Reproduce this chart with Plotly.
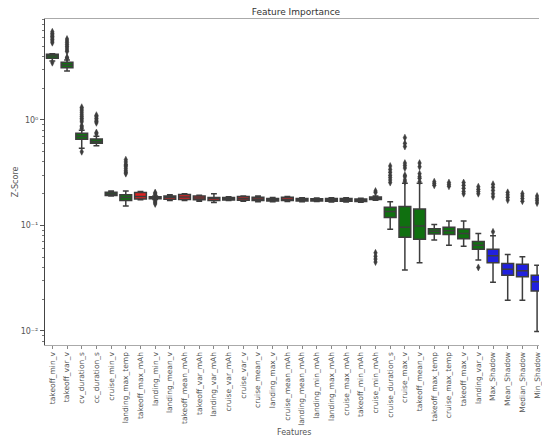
import plotly.graph_objects as go

# Feature names in plotted order (sorted by median importance)
features = [
    "takeoff_min_v", "takeoff_var_v", "cv_duration_s", "cc_duration_s", "cruise_min_v",
    "landing_max_temp", "takeoff_max_mAh", "landing_min_v", "landing_mean_v", "takeoff_mean_mAh",
    "takeoff_var_mAh", "landing_var_mAh", "cruise_var_mAh", "cruise_var_v", "cruise_mean_v",
    "landing_max_v", "cruise_mean_mAh", "landing_mean_mAh", "landing_min_mAh", "landing_max_mAh",
    "cruise_max_mAh", "takeoff_min_mAh", "cruise_min_mAh", "cruise_duration_s", "cruise_max_v",
    "takeoff_mean_v", "takeoff_max_temp", "cruise_max_temp", "takeoff_max_v", "landing_var_v",
    "Max_Shadow", "Mean_Shadow", "Median_Shadow", "Min_Shadow",
]

# Decision per feature: accepted / rejected / shadow
status = (["accepted"] * 6 + ["rejected"] * 17 + ["accepted"] * 7 + ["shadow"] * 4)

# Box statistics of the Z-scores
lower_fence = [3.62, 2.91, 0.539, 0.571, 0.190, 0.153, 0.175, 0.176, 0.172, 0.172,
               0.170, 0.165, 0.172, 0.170, 0.168, 0.168, 0.169, 0.168, 0.169, 0.167,
               0.167, 0.166, 0.173, 0.092, 0.0379, 0.0444, 0.073, 0.065, 0.0636, 0.047,
               0.029, 0.0196, 0.0196, 0.0099]
q1 = [3.85, 3.13, 0.656, 0.601, 0.192, 0.172, 0.178, 0.179, 0.177, 0.176,
      0.175, 0.172, 0.174, 0.173, 0.172, 0.171, 0.172, 0.171, 0.171, 0.170,
      0.170, 0.169, 0.176, 0.119, 0.0773, 0.074, 0.083, 0.082, 0.075, 0.0594,
      0.0444, 0.0338, 0.0327, 0.0239]
median = [4.04, 3.32, 0.700, 0.625, 0.199, 0.184, 0.188, 0.183, 0.185, 0.186,
          0.182, 0.180, 0.179, 0.180, 0.178, 0.175, 0.177, 0.175, 0.175, 0.175,
          0.175, 0.173, 0.181, 0.136, 0.096, 0.099, 0.088, 0.089, 0.084, 0.065,
          0.0515, 0.0385, 0.0372, 0.0292]
q3 = [4.20, 3.52, 0.748, 0.660, 0.206, 0.195, 0.205, 0.187, 0.190, 0.197,
      0.190, 0.184, 0.184, 0.188, 0.185, 0.180, 0.185, 0.180, 0.179, 0.180,
      0.180, 0.178, 0.186, 0.149, 0.151, 0.143, 0.0933, 0.096, 0.0927, 0.0703,
      0.0594, 0.0437, 0.0430, 0.0338]
upper_fence = [4.25, 3.70, 0.800, 0.700, 0.212, 0.212, 0.210, 0.190, 0.195, 0.200,
               0.193, 0.200, 0.187, 0.190, 0.190, 0.184, 0.188, 0.183, 0.182, 0.183,
               0.183, 0.181, 0.190, 0.168, 0.251, 0.251, 0.102, 0.110, 0.110, 0.084,
               0.080, 0.053, 0.0506, 0.042]

# Points beyond the whiskers
outliers = [
    [3.49, 5.4, 5.6, 5.8, 6.0, 6.2, 6.4, 6.6, 6.85],
    [3.85, 3.93, 4.45, 4.6, 4.8, 5.0, 5.2, 5.4, 5.6, 5.85],
    [0.50, 0.83, 0.86, 0.88, 0.96, 1.0, 1.04, 1.08, 1.12, 1.17, 1.22, 1.27, 1.32],
    [0.74, 0.76, 0.94, 0.97, 1.0, 1.04, 1.08, 1.11],
    [],
    [0.31, 0.32, 0.33, 0.345, 0.36, 0.37, 0.38, 0.40, 0.42],
    [],
    [0.196, 0.20, 0.205, 0.172, 0.168, 0.164, 0.16],
    [], [], [], [], [], [], [], [], [], [], [], [], [], [],
    [0.205, 0.212, 0.055, 0.051, 0.048, 0.045],
    [0.255, 0.27, 0.285, 0.30, 0.32, 0.34, 0.366],
    [0.26, 0.27, 0.29, 0.30, 0.35, 0.37, 0.39, 0.56, 0.60, 0.68],
    [0.26, 0.28, 0.29, 0.31, 0.36, 0.39],
    [0.24, 0.25, 0.26],
    [0.235, 0.245, 0.255],
    [0.20, 0.21, 0.225, 0.24, 0.255],
    [0.04, 0.20, 0.21, 0.22, 0.233],
    [0.087, 0.187, 0.20, 0.215, 0.23, 0.246],
    [0.174, 0.185, 0.195, 0.206],
    [0.17, 0.18, 0.19, 0.20],
    [0.163, 0.172, 0.18, 0.19],
]

colors = {"accepted": "#107010", "rejected": "#df2020", "shadow": "#2020df"}
edge = "#3d3d3d"
font_family = "DejaVu Sans"

fig = go.Figure()

for group, fill in colors.items():
    idx = [i for i, s in enumerate(status) if s == group]
    fig.add_trace(go.Box(
        x=[features[i] for i in idx],
        q1=[q1[i] for i in idx],
        median=[median[i] for i in idx],
        q3=[q3[i] for i in idx],
        lowerfence=[lower_fence[i] for i in idx],
        upperfence=[upper_fence[i] for i in idx],
        fillcolor=fill,
        line=dict(color=edge, width=1.5),
        width=0.8,
        whiskerwidth=0.5,
        boxpoints=False,
        showlegend=False,
        hoverinfo="skip",
    ))

out_x, out_y = [], []
for name, pts in zip(features, outliers):
    out_x.extend([name] * len(pts))
    out_y.extend(pts)

fig.add_trace(go.Scatter(
    x=out_x, y=out_y, mode="markers",
    marker=dict(symbol="diamond-tall", size=5, color=edge,
                line=dict(color=edge, width=0.5)),
    showlegend=False, hoverinfo="skip",
))

minor_vals = [m * 10.0 ** e for e in (-3, -2, -1, 0) for m in range(2, 10)]

fig.update_layout(
    width=542, height=441,
    margin=dict(l=45, r=0, t=19, b=96),
    paper_bgcolor="white", plot_bgcolor="white",
    boxmode="overlay",
    font=dict(family=font_family, color="#444"),
    title=dict(text="Feature Importance", x=0.546, xanchor="center",
               y=1 - 12 / 441, yanchor="middle", yref="container",
               font=dict(size=9, color="#333", family=font_family)),
    xaxis=dict(
        type="category", categoryorder="array", categoryarray=features,
        range=[-0.5, 33.13],
        tickangle=-90, tickfont=dict(size=7.5, color="#555"),
        ticks="outside", ticklen=3, tickcolor="#888",
        showline=True, linecolor="#aaa", linewidth=1.2, mirror=True,
        showgrid=False, zeroline=False,
    ),
    yaxis=dict(
        type="log", range=[-2.133, 0.957],
        tickvals=[0.01, 0.1, 1], ticktext=["10\u207b\u00b2", "10\u207b\u00b9", "10\u2070"],
        tickfont=dict(size=8, color="#555"),
        ticks="outside", ticklen=4, tickcolor="#555",
        minor=dict(tickvals=minor_vals, ticks="outside", ticklen=2, tickcolor="#777",
                   showgrid=False),
        showline=True, linecolor="#444", linewidth=1.2,
        showgrid=False, zeroline=False,
    ),
    annotations=[
        dict(text="Features", xref="paper", yref="paper", x=0.505, y=-(432 - 345) / 326,
             xanchor="center", yanchor="middle", showarrow=False,
             font=dict(size=8, color="#555", family=font_family)),
        dict(text="Z-Score", xref="paper", yref="paper", x=(15 - 45) / 497, y=0.5,
             xanchor="center", yanchor="middle", textangle=-90, showarrow=False,
             font=dict(size=8, color="#555", family=font_family)),
    ],
)

fig.write_html("out.html")
